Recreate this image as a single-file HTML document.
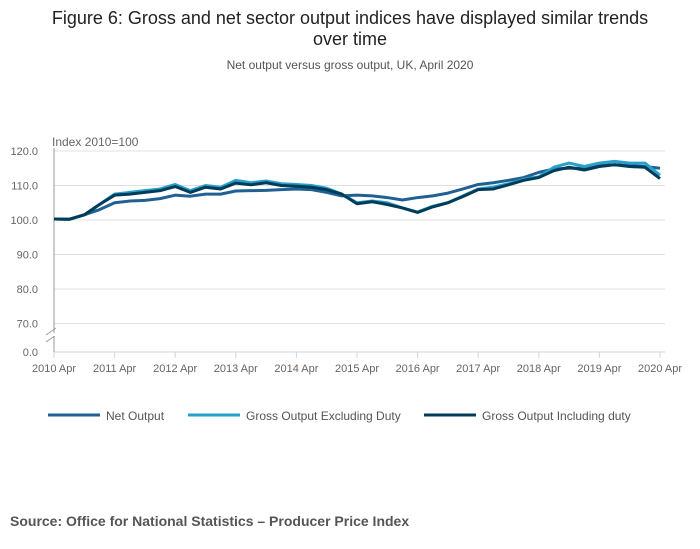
<!DOCTYPE html>
<html><head><meta charset="utf-8"><style>
body{margin:0;background:#fff;font-family:"Liberation Sans",sans-serif;}
#wrap{position:relative;width:700px;height:549px;overflow:hidden}
</style></head><body>
<div id="wrap">
<svg id="chart" width="700" height="549">
<text x="350" y="24" text-anchor="middle" font-size="18" fill="#222">Figure 6: Gross and net sector output indices have displayed similar trends</text>
<text x="350" y="45" text-anchor="middle" font-size="18" fill="#222">over time</text>
<text x="350" y="69" text-anchor="middle" font-size="12" fill="#555">Net output versus gross output, UK, April 2020</text>
<text x="52" y="146" font-size="12" fill="#666">Index 2010=100</text>
<g id="grid"></g><g id="axes"></g><g id="series"></g>
<g id="legend"></g>
<text x="10" y="526" font-size="14" font-weight="bold" fill="#555">Source: Office for National Statistics – Producer Price Index</text>
</svg>
</div>
<script>
const yTicks=[120,110,100,90,80,70];
const yTickLabels=["120.0","110.0","100.0","90.0","80.0","70.0"];
const xTickLabels=["2010 Apr","2011 Apr","2012 Apr","2013 Apr","2014 Apr","2015 Apr","2016 Apr","2017 Apr","2018 Apr","2019 Apr","2020 Apr"];
const seriesNames=["Net Output","Gross Output Excluding Duty","Gross Output Including duty"];
const netOutput=[100.3,100.2,101.5,103,105,105.5,105.7,106.2,107.2,106.9,107.5,107.5,108.4,108.5,108.6,108.8,109,108.8,108,107,107.2,107,106.5,105.8,106.5,107,107.8,109,110.3,110.8,111.5,112.3,113.8,114.8,115,115,115.8,116,115.8,115.5,115];
const grossExcl=[100.3,100.2,101.5,104.5,107.5,108,108.5,109,110.3,108.5,110,109.5,111.5,110.8,111.3,110.5,110.3,110,109.2,107.5,105,105.5,105,103.5,102.3,104,105,107,109,109.5,110.5,111.8,112.5,115.3,116.5,115.5,116.5,117,116.5,116.5,113];
const grossIncl=[100.3,100.2,101.5,104.5,107.2,107.5,108,108.5,109.7,108,109.5,109,110.7,110.2,110.8,110,109.8,109.5,108.8,107.5,104.7,105.3,104.5,103.5,102.2,103.8,105,106.8,108.8,109,110.2,111.5,112.3,114.3,115.3,114.5,115.5,116,115.5,115.3,112];
const colors=["#206095","#27a0cc","#003c57"];
const NS="http://www.w3.org/2000/svg";
const x0=54,x1=660,L=54,R=665;
const xs=i=>x0+(x1-x0)*i/40;
const ys=v=>220-(v-100)*3.45;
function mk(t,a,p){const e=document.createElementNS(NS,t);for(const k in a)e.setAttribute(k,a[k]);p.appendChild(e);return e;}
const grid=document.getElementById('grid'),axes=document.getElementById('axes'),ser=document.getElementById('series'),leg=document.getElementById('legend');
yTicks.forEach((v,i)=>{
 const l=mk('line',{x1:L,x2:R,y1:ys(v),y2:ys(v),stroke:'#e0e0e0'},grid);
 
 
 const t=mk('text',{x:38,y:ys(v)+4,'text-anchor':'end','font-size':11,fill:'#666'},axes);
 t.textContent=yTickLabels[i];
 
 
});
const zt=mk('text',{x:38,y:356,'text-anchor':'end','font-size':11,fill:'#666'},axes);zt.textContent="0.0";


mk('line',{x1:L,x2:R,y1:352,y2:352,stroke:'#ccd6eb'},axes);
mk('line',{x1:L,x2:L,y1:148,y2:352,stroke:'#999'},axes);
mk('line',{x1:46,x2:56,y1:335,y2:328,stroke:'#999'},axes);
mk('line',{x1:46,x2:56,y1:342,y2:335,stroke:'#999'},axes);
mk('rect',{x:50,y:333,width:8,height:3,fill:'#fff'},axes);
xTickLabels.forEach((s,i)=>{
 const x=xs(i*4);
 mk('line',{x1:x,x2:x,y1:352,y2:358,stroke:'#ccd6eb'},axes);
 const t=mk('text',{x:x,y:372,'text-anchor':'middle','font-size':11,fill:'#666'},axes);
 t.textContent=s;
 
 
});
[netOutput,grossExcl,grossIncl].forEach((d,k)=>{
 const p=mk('polyline',{points:d.map((v,i)=>xs(i)+','+ys(v)).join(' '),fill:'none',stroke:colors[k],'stroke-width':3,'stroke-linejoin':'round'},ser);
 
 
});
const lx=[48,188,424];
seriesNames.forEach((n,k)=>{
 mk('line',{x1:lx[k],x2:lx[k]+52,y1:415,y2:415,stroke:colors[k],'stroke-width':3},leg);
 const t=mk('text',{x:lx[k]+58,y:420,'font-size':12,fill:'#555'},leg);
 t.textContent=n;
 
 
});
</script>
</body></html>
